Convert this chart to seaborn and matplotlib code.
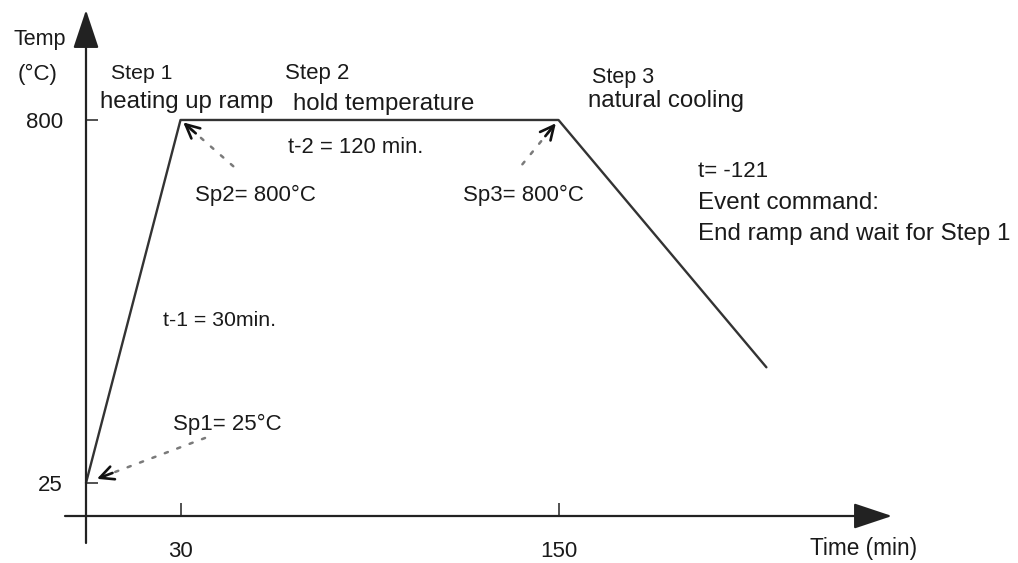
import numpy as np
import pandas as pd
import matplotlib
matplotlib.use('Agg')
import matplotlib.pyplot as plt
import seaborn as sns

# corner points of the furnace program (time in min, temperature in degC)
time_min = [0, 30, 150, 216]
temp_c = [25, 800, 800, 272]

x_ticks = [30, 150]
x_tick_labels = ['30', '150']
y_ticks = [25, 800]
y_tick_labels = ['25', '800']

# set points that get a dotted pointer
sp_time = [0, 30, 150]
sp_temp = [25, 800, 800]

W, H = 1018, 563
# pixel layout of the original drawing
X0_PX, X_SCALE = 86, 3.15
Y0_PX, Y_SCALE = 494.7, 0.4684
INK = '#1a1a1a'


def px_x(x):
    return (x - X0_PX) / X_SCALE


def px_y(y):
    return (Y0_PX - y) / Y_SCALE


def label(ax, x, y, s, size):
    ax.text(x / W, 1 - y / H, s, transform=ax.transAxes, ha='left',
            va='baseline', fontsize=size, color=INK)


def pointer(ax, xy, tail, gap):
    """Dotted grey shaft with a small open arrow head."""
    tail = np.array(tail, float)
    unit = tail / np.hypot(*tail)
    ax.annotate('', xy=xy, xytext=tail, textcoords='offset points',
                arrowprops=dict(arrowstyle='-', lw=1.8, color='#7a7a7a',
                                linestyle=(0, (1.3, 4)), shrinkA=0,
                                shrinkB=gap + 7))
    ax.annotate('', xy=xy, xytext=unit * (gap + 12), textcoords='offset points',
                arrowprops=dict(arrowstyle='->,head_length=0.45,head_width=0.22',
                                mutation_scale=22, lw=1.9, color='#111111',
                                shrinkA=0, shrinkB=gap))


sns.set_theme(style='white')
plt.rcParams['font.family'] = ['Liberation Sans', 'DejaVu Sans']

fig = plt.figure(figsize=(W / 100, H / 100), dpi=100)
ax = fig.add_axes([0, 0, 1, 1])

profile = pd.DataFrame({'time': time_min, 'temp': temp_c})
sns.lineplot(data=profile, x='time', y='temp', sort=False, color='#333333',
             lw=1.7, ax=ax)
ax.set_xlabel('')
ax.set_ylabel('')

ax.set_xlim(px_x(0), px_x(W))
ax.set_ylim(px_y(H), px_y(0))

x_axis_level = px_y(516)
ax.spines['left'].set_position(('data', 0))
ax.spines['bottom'].set_position(('data', x_axis_level))
for s in ax.spines.values():
    s.set_visible(False)

axis_style = dict(arrowstyle='-|>,head_length=1.2,head_width=0.4',
                  mutation_scale=20, lw=1.6, color='#222222',
                  shrinkA=0, shrinkB=0)
ax.annotate('', xy=(0, px_y(10)), xytext=(0, px_y(543)), arrowprops=axis_style)
ax.annotate('', xy=(px_x(892), x_axis_level), xytext=(px_x(65), x_axis_level),
            arrowprops=axis_style)

ax.set_xticks(x_ticks, x_tick_labels)
ax.set_yticks(y_ticks, y_tick_labels)
ax.tick_params(axis='x', bottom=True, direction='in', length=9.4, width=1.1,
               color='#222222', pad=18, labelsize=16, labelcolor=INK)
ax.tick_params(axis='y', left=True, direction='in', length=8.6, width=1.1,
               color='#222222', pad=16.5, labelsize=16, labelcolor=INK)

# dotted pointers to the set points
pointer(ax, (sp_time[0], sp_temp[0]), (85.7, 32.4), 8.4)
pointer(ax, (sp_time[1], sp_temp[1]), (38, -33.3), 2.6)
pointer(ax, (sp_time[2], sp_temp[2]), (-26, -31.9), 3.0)

label(ax, 14, 45, 'Temp', 15.5)
label(ax, 18, 80, '(°C)', 16)
label(ax, 111, 79, 'Step 1', 15.3)
label(ax, 100, 108, 'heating up ramp', 17.3)
label(ax, 285, 79, 'Step 2', 16)
label(ax, 293, 110, 'hold temperature', 17.3)
label(ax, 592, 83, 'Step 3', 15.5)
label(ax, 588, 107, 'natural cooling', 17.3)
label(ax, 288, 153, 't-2 = 120 min.', 15.8)
label(ax, 195, 201, 'Sp2= 800°C', 16)
label(ax, 463, 201, 'Sp3= 800°C', 16)
label(ax, 698, 177, 't= -121', 16)
label(ax, 698, 209, 'Event command:', 17.4)
label(ax, 698, 240, 'End ramp and wait for Step 1', 17.4)
label(ax, 163, 326, 't-1 = 30min.', 15.3)
label(ax, 173, 430, 'Sp1= 25°C', 16)
label(ax, 810, 555, 'Time (min)', 16.3)

fig.savefig('out.png', dpi=100, facecolor='white')
